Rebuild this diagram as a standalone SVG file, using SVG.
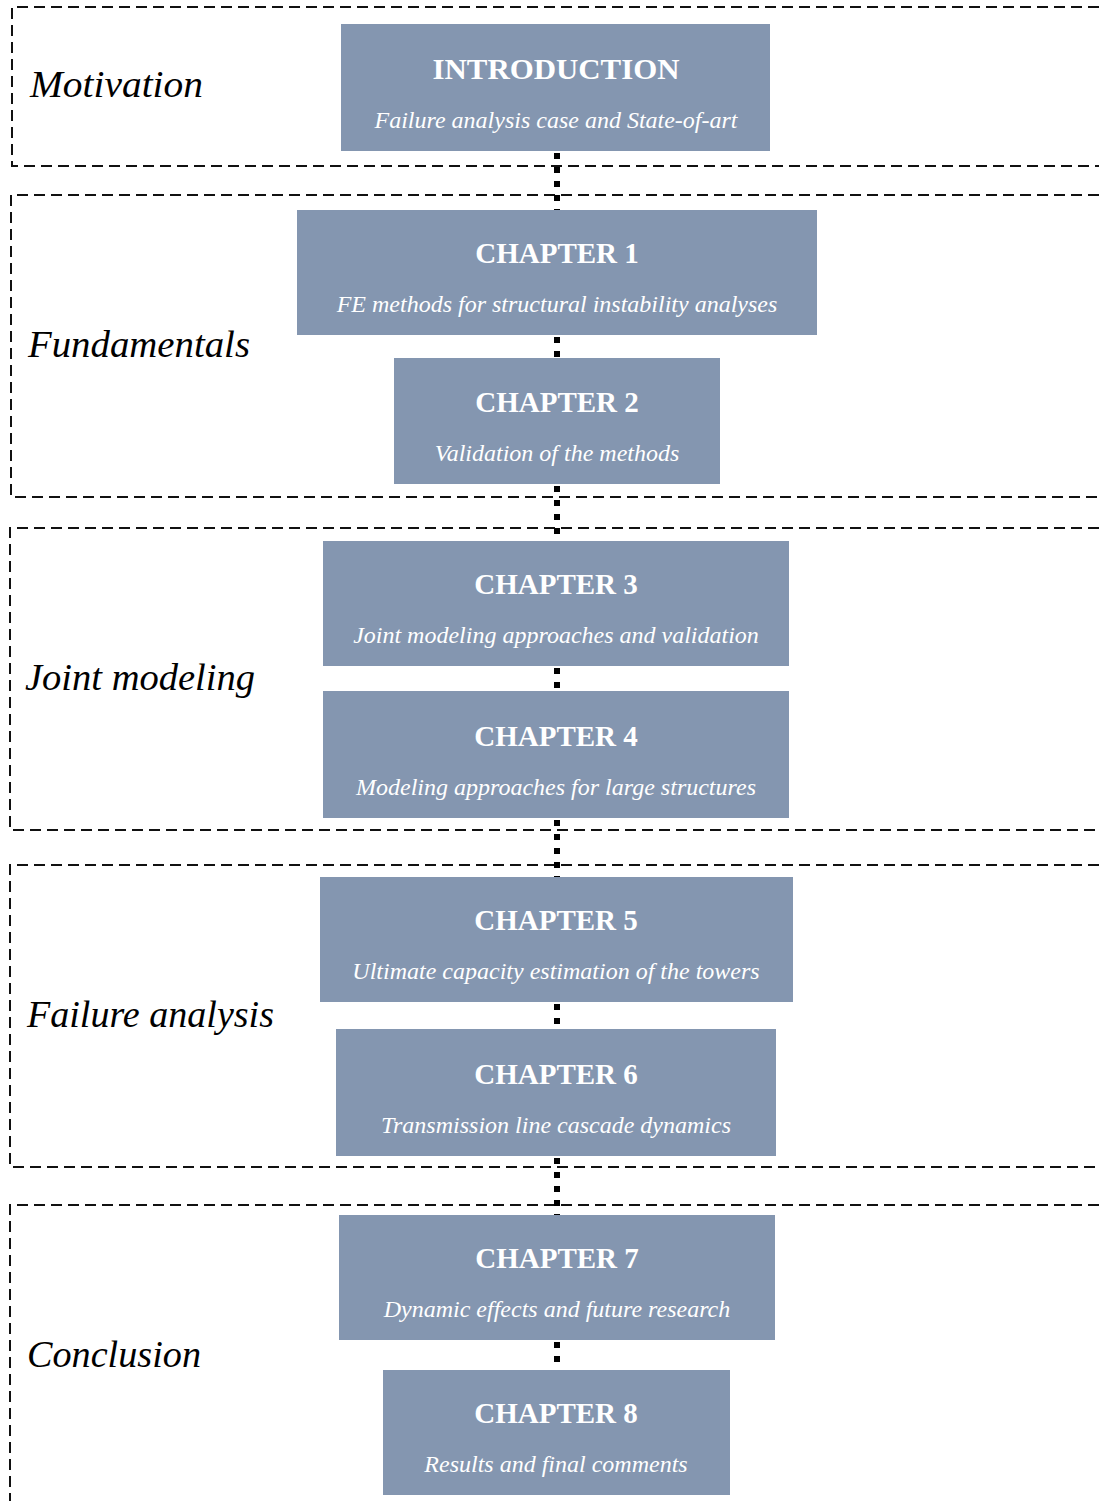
<svg xmlns="http://www.w3.org/2000/svg" width="1099" height="1501" viewBox="0 0 1099 1501">
<style>
.frame{fill:none;stroke:#111;stroke-width:2;stroke-dasharray:11 6}
.box{fill:#8496B0}
.title{font-family:"Liberation Serif","DejaVu Serif",serif;font-size:29px;font-weight:bold;fill:#fff;text-anchor:middle}
.sub{font-family:"Liberation Serif","DejaVu Serif",serif;font-size:24px;font-style:italic;fill:#fff;text-anchor:middle}
.sec{font-family:"Liberation Serif","DejaVu Serif",serif;font-size:38px;font-style:italic;fill:#000}
.dot{stroke:#000;stroke-width:6;stroke-dasharray:6 8;fill:none}
</style>
<rect width="1099" height="1501" fill="#fff"/>
<g id="sections">
<g id="sec-motivation"><path class="frame" d="M1099 7H12V166H1099"/><text class="sec" x="30" y="97" textLength="173" lengthAdjust="spacingAndGlyphs">Motivation</text></g>
<g id="sec-fundamentals"><path class="frame" d="M1099 195H11V497H1099"/><text class="sec" x="28" y="357" textLength="222" lengthAdjust="spacingAndGlyphs">Fundamentals</text></g>
<g id="sec-joint"><path class="frame" d="M1099 528H10V830H1099"/><text class="sec" x="25" y="690" textLength="230" lengthAdjust="spacingAndGlyphs">Joint modeling</text></g>
<g id="sec-failure"><path class="frame" d="M1099 865H10V1167H1099"/><text class="sec" x="27" y="1027" textLength="247" lengthAdjust="spacingAndGlyphs">Failure analysis</text></g>
<g id="sec-conclusion"><path class="frame" d="M1099 1205H10V1501"/><text class="sec" x="27" y="1367" textLength="174" lengthAdjust="spacingAndGlyphs">Conclusion</text></g>
</g>
<g id="connectors">
<line class="dot" x1="557" y1="153" x2="557" y2="210"/>
<line class="dot" x1="557" y1="337" x2="557" y2="358"/>
<line class="dot" x1="557" y1="486" x2="557" y2="541"/>
<line class="dot" x1="557" y1="668" x2="557" y2="691"/>
<line class="dot" x1="557" y1="820" x2="557" y2="877"/>
<line class="dot" x1="557" y1="1004" x2="557" y2="1029"/>
<line class="dot" x1="557" y1="1158" x2="557" y2="1215"/>
<line class="dot" x1="557" y1="1342" x2="557" y2="1370"/>
</g>
<g id="intro"><rect class="box" x="341" y="24" width="429" height="127"/><text class="title" x="556" y="79" textLength="247" lengthAdjust="spacingAndGlyphs">INTRODUCTION</text><text class="sub" x="556" y="128">Failure analysis case and State-of-art</text></g>
<g id="ch1"><rect class="box" x="297" y="210" width="520" height="125"/><text class="title" x="557" y="263">CHAPTER 1</text><text class="sub" x="557" y="312">FE methods for structural instability analyses</text></g>
<g id="ch2"><rect class="box" x="394" y="358" width="326" height="126"/><text class="title" x="557" y="412">CHAPTER 2</text><text class="sub" x="557" y="461">Validation of the methods</text></g>
<g id="ch3"><rect class="box" x="323" y="541" width="466" height="125"/><text class="title" x="556" y="594">CHAPTER 3</text><text class="sub" x="556" y="643">Joint modeling approaches and validation</text></g>
<g id="ch4"><rect class="box" x="323" y="691" width="466" height="127"/><text class="title" x="556" y="746">CHAPTER 4</text><text class="sub" x="556" y="795">Modeling approaches for large structures</text></g>
<g id="ch5"><rect class="box" x="320" y="877" width="473" height="125"/><text class="title" x="556" y="930">CHAPTER 5</text><text class="sub" x="556" y="979">Ultimate capacity estimation of the towers</text></g>
<g id="ch6"><rect class="box" x="336" y="1029" width="440" height="127"/><text class="title" x="556" y="1084">CHAPTER 6</text><text class="sub" x="556" y="1133">Transmission line cascade dynamics</text></g>
<g id="ch7"><rect class="box" x="339" y="1215" width="436" height="125"/><text class="title" x="557" y="1268">CHAPTER 7</text><text class="sub" x="557" y="1317">Dynamic effects and future research</text></g>
<g id="ch8"><rect class="box" x="383" y="1370" width="347" height="125"/><text class="title" x="556" y="1423">CHAPTER 8</text><text class="sub" x="556" y="1472">Results and final comments</text></g>
</svg>
